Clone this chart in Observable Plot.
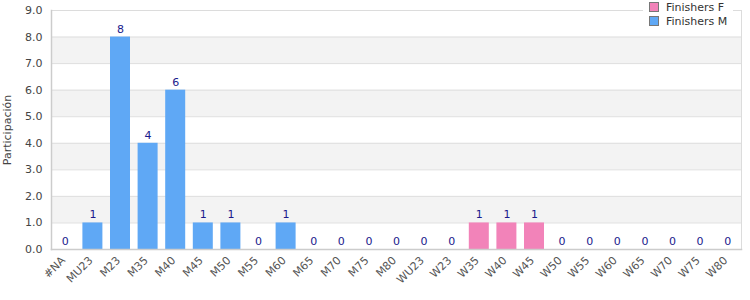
<!DOCTYPE html>
<html><head><meta charset="utf-8">
<script src="https://cdn.jsdelivr.net/npm/d3@7"></script>
<script src="https://cdn.jsdelivr.net/npm/@observablehq/plot@0.6"></script>
<style>
body{margin:0;background:#fff;font-family:"DejaVu Sans",sans-serif;}
#wrap{position:relative;width:750px;height:300px;}
#legend{position:absolute;left:643px;top:1px;background:#fff;padding:0 6px 2px 6px;font-size:11px;color:#333;line-height:14px;}
#legend .sw{display:inline-block;width:8px;height:8px;border:1px solid #777;margin-right:7px;vertical-align:-1px;}
</style></head>
<body><div id="wrap"><div id="chart"></div>
<div id="legend"><div><span class="sw" style="background:#f283b9"></span>Finishers F</div><div><span class="sw" style="background:#5fa8f5"></span>Finishers M</div></div></div>
<script>
const categories = ["#NA","MU23","M23","M35","M40","M45","M50","M55","M60","M65","M70","M75","M80","WU23","W23","W35","W40","W45","W50","W55","W60","W65","W70","W75","W80"];
const values = [0,1,8,4,6,1,1,0,1,0,0,0,0,0,0,1,1,1,0,0,0,0,0,0,0];
const series = ["M","M","M","M","M","M","M","M","M","M","M","M","M","F","F","F","F","F","F","F","F","F","F","F","F"];
const seriesNames = ["Finishers F","Finishers M"];
const yTicks = [0,1,2,3,4,5,6,7,8,9];
const bandLo = [1,3,5,7];
const bandHi = [2,4,6,8];

const data = categories.map((c,i)=>({cat:c, v:values[i], s:series[i]}));
const bands = bandLo.map((lo,i)=>({lo, hi:bandHi[i]}));

const chart = Plot.plot({
  width:750, height:300,
  marginLeft:51, marginRight:9, marginTop:10, marginBottom:51,
  style:{fontFamily:"DejaVu Sans, sans-serif", fontSize:"11px", color:"#444", background:"#fff"},
  x:{domain:categories, padding:0, round:false},
  y:{domain:[0,9]},
  color:{domain:["F","M"], range:["#f283b9","#5fa8f5"]},
  marks:[
    Plot.rect(bands,{y1:"lo", y2:"hi", fill:"#f3f3f3"}),
    Plot.ruleY(yTicks,{stroke:"#dedede"}),
    Plot.frame({stroke:"#dcdcdc"}),
    Plot.barY(data,{x:"cat", y:"v", fill:"s", insetLeft:3.8, insetRight:3.8}),
    Plot.text(data,{x:"cat", y:"v", text:d=>String(d.v), dy:-8, fill:"#1a1a8c", fontSize:11}),
    Plot.axisY({ticks:yTicks, tickFormat:d=>d.toFixed(1), tickSize:0, tickPadding:9, fontSize:11, label:"Participación", labelAnchor:"center", labelArrow:"none", labelOffset:48}),
    Plot.axisX({tickSize:0, tickRotate:-45, tickPadding:9, dx:-2, fontSize:11, fill:"#555", label:null}),
    Plot.frame({anchor:"bottom", stroke:"#cccccc", strokeWidth:1.5}),
    Plot.frame({anchor:"left", stroke:"#cccccc", strokeWidth:1.5})
  ]
});
document.getElementById("chart").appendChild(chart);
</script></body></html>
